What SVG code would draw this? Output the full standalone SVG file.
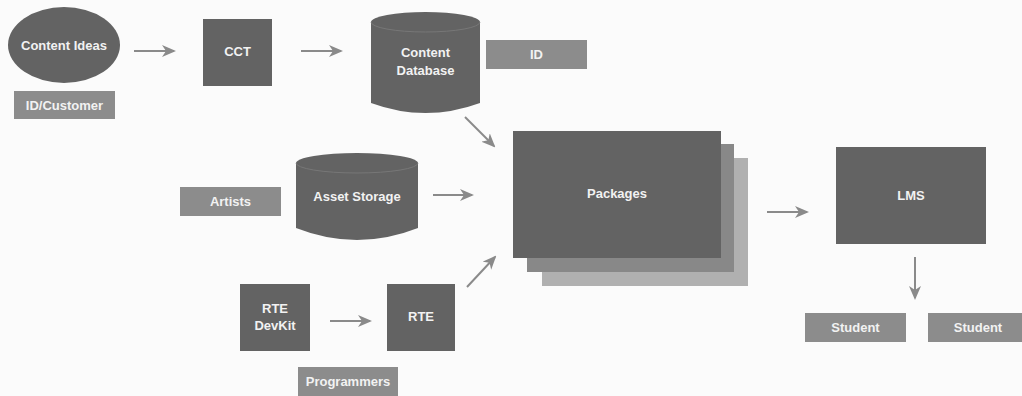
<svg xmlns="http://www.w3.org/2000/svg" width="1022" height="396" viewBox="0 0 1022 396">
<style>
.dark{fill:#636363}
.lab{fill:#8c8c8c}
.t{font-family:"Liberation Sans",Arial,sans-serif;font-weight:bold;font-size:13px;fill:#f2f2f2;text-anchor:middle}
.c{stroke:#8a8a8a;stroke-width:2;fill:none}
</style>
<defs>
<marker id="ah" markerUnits="userSpaceOnUse" markerWidth="14" markerHeight="12" viewBox="0 0 14 12" refX="12" refY="6" orient="auto">
<path d="M0,0 L14,6 L0,12 L4,6 z" fill="#8a8a8a"/>
</marker>
</defs>
<rect width="1022" height="396" fill="#fbfbfb"/>
<g id="connectors">
<line class="c" x1="134" y1="51" x2="174" y2="51" marker-end="url(#ah)"/>
<line class="c" x1="301" y1="51" x2="341" y2="51" marker-end="url(#ah)"/>
<line class="c" x1="465" y1="117" x2="494" y2="146" marker-end="url(#ah)"/>
<line class="c" x1="433" y1="195" x2="472" y2="195" marker-end="url(#ah)"/>
<line class="c" x1="467" y1="287" x2="495" y2="257" marker-end="url(#ah)"/>
<line class="c" x1="330" y1="321" x2="370" y2="321" marker-end="url(#ah)"/>
<line class="c" x1="767" y1="212" x2="807" y2="212" marker-end="url(#ah)"/>
<line class="c" x1="915" y1="257" x2="915" y2="298" marker-end="url(#ah)"/>
</g>
<g id="content-ideas">
<ellipse class="dark" cx="64" cy="45" rx="56" ry="38"/>
<text class="t" x="64" y="50">Content Ideas</text>
</g>
<g id="id-customer">
<rect class="lab" x="14" y="91" width="101" height="28"/>
<text class="t" x="64.5" y="110">ID/Customer</text>
</g>
<g id="cct">
<rect class="dark" x="203" y="19" width="69" height="67"/>
<text class="t" x="237.5" y="56">CCT</text>
</g>
<g id="content-database">
<path class="dark" d="M371,22 A54.5,10 0 0 1 480,22 L480,103 Q425.5,123 371,103 Z"/>
<path d="M371,22 A54.5,10 0 0 0 480,22" fill="none" stroke="#777" stroke-width="1"/>
<text class="t" x="425.5" y="57">Content</text>
<text class="t" x="425.5" y="75">Database</text>
</g>
<g id="id">
<rect class="lab" x="486" y="40" width="101" height="29"/>
<text class="t" x="536.5" y="59">ID</text>
</g>
<g id="artists">
<rect class="lab" x="180" y="187" width="101" height="29"/>
<text class="t" x="230.5" y="206">Artists</text>
</g>
<g id="asset-storage">
<path class="dark" d="M296,163 A61,10 0 0 1 418,163 L418,228 Q357,252 296,228 Z"/>
<path d="M296,163 A61,10 0 0 0 418,163" fill="none" stroke="#777" stroke-width="1"/>
<text class="t" x="357" y="201">Asset Storage</text>
</g>
<g id="rte-devkit">
<rect class="dark" x="240" y="284" width="70" height="67"/>
<text class="t" x="275" y="313">RTE</text>
<text class="t" x="275" y="330">DevKit</text>
</g>
<g id="rte">
<rect class="dark" x="387" y="284" width="68" height="67"/>
<text class="t" x="421" y="321">RTE</text>
</g>
<g id="programmers">
<rect class="lab" x="298" y="367" width="100" height="29"/>
<text class="t" x="348" y="386">Programmers</text>
</g>
<g id="packages">
<rect x="542" y="158" width="206" height="128" fill="#b0b0b0"/>
<rect x="527" y="144" width="207" height="128" fill="#888888"/>
<rect class="dark" x="513" y="131" width="208" height="127"/>
<text class="t" x="617" y="198">Packages</text>
</g>
<g id="lms">
<rect class="dark" x="836" y="147" width="150" height="97"/>
<text class="t" x="911" y="200">LMS</text>
</g>
<g id="student-1">
<rect class="lab" x="805" y="313" width="101" height="29"/>
<text class="t" x="855.5" y="332">Student</text>
</g>
<g id="student-2">
<rect class="lab" x="928" y="313" width="101" height="29"/>
<text class="t" x="978" y="332">Student</text>
</g>
</svg>
